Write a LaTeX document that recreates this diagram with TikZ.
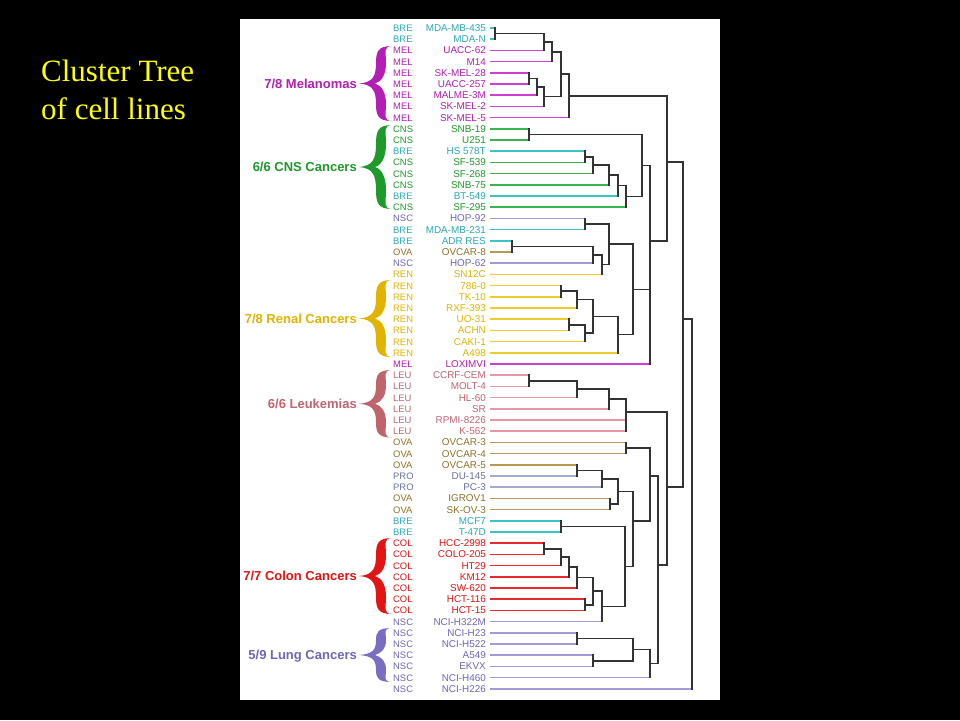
\documentclass[tikz,border=0pt]{standalone}
\usepackage{fontspec}
\setmainfont{Liberation Serif}
\newfontfamily\labsans{Liberation Sans}
\usetikzlibrary{calc}
\definecolor{BRE}{HTML}{2AAAB2}\definecolor{BREl}{HTML}{3CC4C4}
\definecolor{MEL}{HTML}{B41EB4}\definecolor{MELl}{HTML}{D040D0}
\definecolor{CNS}{HTML}{1E9A2A}\definecolor{CNSl}{HTML}{3CB44A}
\definecolor{NSC}{HTML}{6E66B8}\definecolor{NSCl}{HTML}{A29ADA}
\definecolor{OVA}{HTML}{8E7228}\definecolor{OVAl}{HTML}{B49A52}
\definecolor{REN}{HTML}{E0B400}\definecolor{RENl}{HTML}{F2CA2E}
\definecolor{LEU}{HTML}{C46470}\definecolor{LEUl}{HTML}{E898A4}
\definecolor{PRO}{HTML}{6A72A0}\definecolor{PROl}{HTML}{A6AACB}
\definecolor{COL}{HTML}{E21414}\definecolor{COLl}{HTML}{EA2A2A}
\definecolor{treecol}{HTML}{333333}
\definecolor{titleyel}{HTML}{FFFF00}
\definecolor{LEUb}{HTML}{C0646C}
\definecolor{LUNGb}{HTML}{7A6CC0}
\tikzset{
  code/.style={anchor=west, inner sep=0pt, font=\labsans\fontsize{9.4}{11}\selectfont, text height=6.8pt, text depth=0pt},
  nm/.style={anchor=east, inner sep=0pt, font=\labsans\fontsize{9.9}{11}\selectfont, text height=6.8pt, text depth=0pt},
  leafline/.style={line width=1.7pt},
  tree/.style={draw=treecol, line width=1.7pt, line cap=rect},
  grp/.style={anchor=east, inner sep=0pt, font=\labsans\bfseries\fontsize{13}{15}\selectfont, text height=9.4pt, text depth=0pt},
  ttl/.style={anchor=base west, inner sep=0pt, text=titleyel, font=\fontsize{31}{36}\selectfont}
}
\newcommand\lf[4]{%
  \pgfmathsetmacro\yy{28+(#1-1)*11.2}%
  \node[code,text=#2] (c#1) at (393,\yy) {#2};
  \node[nm,text=#2] (t#1) at (486,\yy) {#3};
  \coordinate (L#1) at (490,\yy);
  \coordinate (E#1) at (#4,\yy);
  \draw[leafline,draw=#2l] (L#1) -- (E#1);
}
\newcommand\jn[4]{%
  \path let \p1=(#3), \p2=(#4) in ({#2pt},{0.5*(\y1+\y2)}) coordinate (#1);
  \draw[tree] (#3) -| (#1) (#4) -| (#1);
}
\newcommand\jy[5]{%
  \coordinate (#1) at (#2,#3);
  \draw[tree] (#4) -| (#1) (#5) -| (#1);
}
\newcommand\cbrace[3]{%
  \pgfmathsetmacro\ya{#2}\pgfmathsetmacro\yb{#3}%
  \pgfmathsetmacro\ym{(#2+#3)/2}\pgfmathsetmacro\q{(#3-#2)/2}%
  \fill[#1] (392,\ya) .. controls (378,\ya) and (376,{\ya+0.15*\q}) .. (376,{\ya+0.45*\q})
    .. controls (376,{\ym-0.2*\q}) and (373,{\ym-1}) .. (359,\ym)
    .. controls (373,{\ym+1}) and (376,{\ym+0.2*\q}) .. (376,{\yb-0.45*\q})
    .. controls (376,{\yb-0.15*\q}) and (378,\yb) .. (392,\yb)
    .. controls (383,\yb) and (386,{\yb-0.15*\q}) .. (386,{\yb-0.45*\q})
    .. controls (386,{\ym+0.25*\q}) and (382,{\ym+2}) .. (375,\ym)
    .. controls (382,{\ym-2}) and (386,{\ym-0.25*\q}) .. (386,{\ya+0.45*\q})
    .. controls (386,{\ya+0.15*\q}) and (383,\ya) .. (392,\ya) -- cycle;
}
\begin{document}
\begin{tikzpicture}[x=1pt,y=-1pt]
\useasboundingbox (0,0) rectangle (960,720);
\fill[black] (0,0) rectangle (960,720);
\fill[white] (240,19) rectangle (720,700);
\node[ttl] (title1) at (41,81.7) {Cluster Tree};
\node[ttl] (title2) at (41,119) {of cell lines};
% leaves
\lf{1}{BRE}{MDA-MB-435}{495}
\lf{2}{BRE}{MDA-N}{495}
\lf{3}{MEL}{UACC-62}{544}
\lf{4}{MEL}{M14}{552}
\lf{5}{MEL}{SK-MEL-28}{528.7}
\lf{6}{MEL}{UACC-257}{528.7}
\lf{7}{MEL}{MALME-3M}{536.7}
\lf{8}{MEL}{SK-MEL-2}{544}
\lf{9}{MEL}{SK-MEL-5}{568.7}
\lf{10}{CNS}{SNB-19}{528.7}
\lf{11}{CNS}{U251}{528.7}
\lf{12}{BRE}{HS 578T}{585}
\lf{13}{CNS}{SF-539}{585}
\lf{14}{CNS}{SF-268}{592.7}
\lf{15}{CNS}{SNB-75}{609}
\lf{16}{BRE}{BT-549}{617.7}
\lf{17}{CNS}{SF-295}{625.7}
\lf{18}{NSC}{HOP-92}{585}
\lf{19}{BRE}{MDA-MB-231}{585}
\lf{20}{BRE}{ADR RES}{511.7}
\lf{21}{OVA}{OVCAR-8}{511.7}
\lf{22}{NSC}{HOP-62}{592.7}
\lf{23}{REN}{SN12C}{601.7}
\lf{24}{REN}{786-0}{560.7}
\lf{25}{REN}{TK-10}{560.7}
\lf{26}{REN}{RXF-393}{576.7}
\lf{27}{REN}{UO-31}{568.7}
\lf{28}{REN}{ACHN}{568.7}
\lf{29}{REN}{CAKI-1}{585}
\lf{30}{REN}{A498}{617.7}
\lf{31}{MEL}{LOXIMVI}{650}
\lf{32}{LEU}{CCRF-CEM}{528.7}
\lf{33}{LEU}{MOLT-4}{528.7}
\lf{34}{LEU}{HL-60}{576.7}
\lf{35}{LEU}{SR}{609}
\lf{36}{LEU}{RPMI-8226}{625.7}
\lf{37}{LEU}{K-562}{625.7}
\lf{38}{OVA}{OVCAR-3}{625.7}
\lf{39}{OVA}{OVCAR-4}{625.7}
\lf{40}{OVA}{OVCAR-5}{576.7}
\lf{41}{PRO}{DU-145}{576.7}
\lf{42}{PRO}{PC-3}{601.7}
\lf{43}{OVA}{IGROV1}{609.7}
\lf{44}{OVA}{SK-OV-3}{609.7}
\lf{45}{BRE}{MCF7}{560.7}
\lf{46}{BRE}{T-47D}{560.7}
\lf{47}{COL}{HCC-2998}{544}
\lf{48}{COL}{COLO-205}{544}
\lf{49}{COL}{HT29}{560.7}
\lf{50}{COL}{KM12}{568.7}
\lf{51}{COL}{SW-620}{576.7}
\lf{52}{COL}{HCT-116}{585}
\lf{53}{COL}{HCT-15}{585}
\lf{54}{NSC}{NCI-H322M}{601.7}
\lf{55}{NSC}{NCI-H23}{576.7}
\lf{56}{NSC}{NCI-H522}{576.7}
\lf{57}{NSC}{A549}{593.3}
\lf{58}{NSC}{EKVX}{593.3}
\lf{59}{NSC}{NCI-H460}{650}
\lf{60}{NSC}{NCI-H226}{691.7}
% tree joins
\jn{a1}{495}{E1}{E2}
\jn{a2}{544}{a1}{E3}
\jn{a3}{552}{a2}{E4}
\jn{a4}{528.7}{E5}{E6}
\jn{a5}{536.7}{a4}{E7}
\jn{a6}{544}{a5}{E8}
\jn{a7}{560.7}{a3}{a6}
\jn{mel}{568.7}{a7}{E9}
\jn{b1}{528.7}{E10}{E11}
\jn{b2}{585}{E12}{E13}
\jn{b3}{592.7}{b2}{E14}
\jn{b4}{609}{b3}{E15}
\jn{b5}{617.7}{b4}{E16}
\jn{b6}{625.7}{b5}{E17}
\jn{cns}{642.3}{b1}{b6}
\jn{c1}{585}{E18}{E19}
\jn{c2}{511.7}{E20}{E21}
\jn{c3}{592.7}{c2}{E22}
\jn{c4}{601.7}{c3}{E23}
\jn{c5}{609}{c1}{c4}
\jn{d1}{560.7}{E24}{E25}
\jn{d2}{576.7}{d1}{E26}
\jn{d3}{568.7}{E27}{E28}
\jn{d4}{585}{d3}{E29}
\jn{d5}{592.7}{d2}{d4}
\jn{d6}{617.7}{d5}{E30}
\jn{x1}{633.3}{c5}{d6}
\jn{x2}{650}{x1}{E31}
\jy{w}{650}{240.7}{cns}{x2}
\jy{u}{666.7}{162}{mel}{w}
\jn{e1}{528.7}{E32}{E33}
\jn{e2}{576.7}{e1}{E34}
\jn{e3}{609}{e2}{E35}
\jn{e4}{625.7}{E36}{E37}
\jn{leu}{625.7}{e3}{e4}
\jn{f1}{625.7}{E38}{E39}
\jn{g1}{576.7}{E40}{E41}
\jn{g2}{601.7}{g1}{E42}
\jn{g3}{609.7}{E43}{E44}
\jn{g4}{617.7}{g2}{g3}
\jn{h1}{560.7}{E45}{E46}
\jn{k1}{544}{E47}{E48}
\jn{k2}{560.7}{k1}{E49}
\jn{k3}{568.7}{k2}{E50}
\jn{k4}{576.7}{k3}{E51}
\jn{k5}{585}{E52}{E53}
\jn{k6}{593.3}{k4}{k5}
\jn{k7}{601.7}{k6}{E54}
\jn{h2}{625}{h1}{k7}
\jy{z2}{633.3}{520.7}{g4}{h2}
\jy{z1}{650}{476}{f1}{z2}
\jn{l1}{576.7}{E55}{E56}
\jn{l2}{593.3}{E57}{E58}
\jn{l3}{633.3}{l1}{l2}
\jn{l4}{650}{l3}{E59}
\jy{z}{658.3}{565}{z1}{l4}
\jy{v}{666.7}{487.3}{leu}{z}
\jy{t}{683.3}{319}{u}{v}
\jn{root}{691.7}{t}{E60}
% braces and group labels
\cbrace{MEL}{46}{121}
\node[grp,text=MEL] (gmel) at (357,83.5) {7/8 Melanomas};
\cbrace{CNS}{125}{209}
\node[grp,text=CNS] (gcns) at (357,167) {6/6 CNS Cancers};
\cbrace{REN}{280}{357}
\node[grp,text=REN] (gren) at (357,318.5) {7/8 Renal Cancers};
\cbrace{LEUb}{370}{437.5}
\node[grp,text=LEU] (gleu) at (357,403.7) {6/6 Leukemias};
\cbrace{COL}{538}{614}
\node[grp,text=COL] (gcol) at (357,576) {7/7 Colon Cancers};
\cbrace{LUNGb}{628}{682}
\node[grp,text=NSC] (glung) at (357,655) {5/9 Lung Cancers};
\end{tikzpicture}
\end{document}
